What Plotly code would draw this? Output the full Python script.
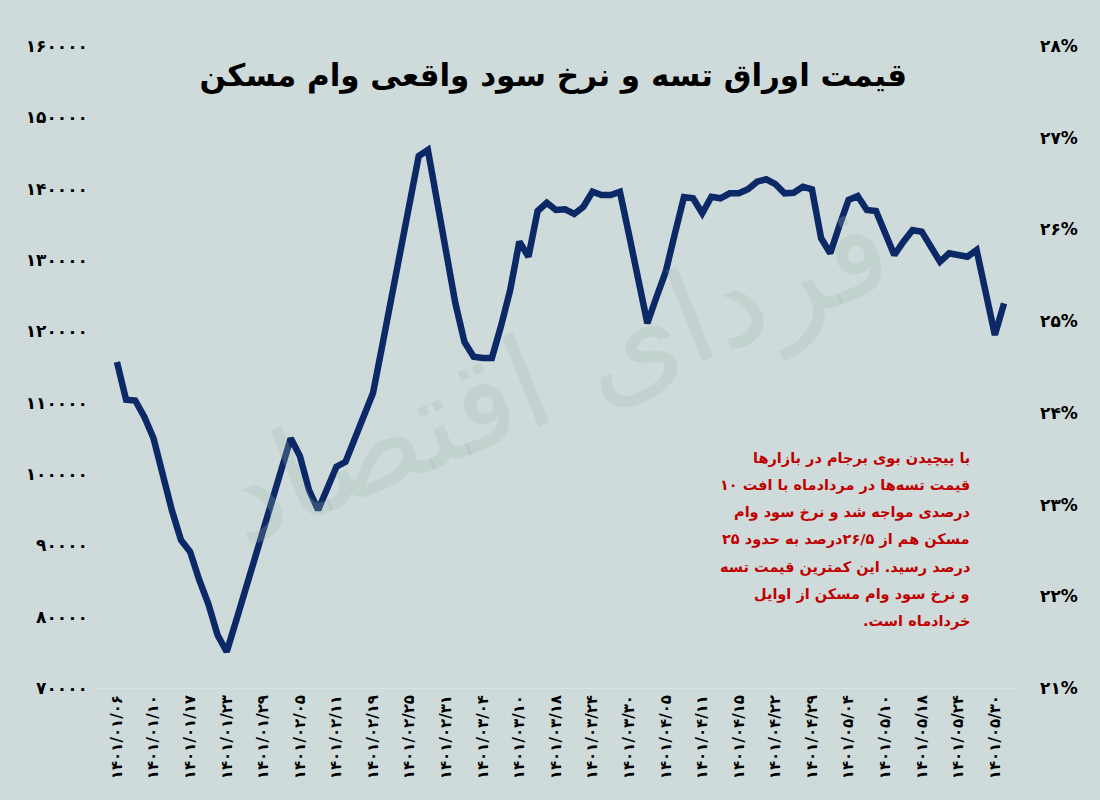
import plotly.graph_objects as go

# ---- data ----
price = [115700, 110400, 110300, 108000, 105000, 99500, 94950, 90750, 89100, 85140,
         81770, 77430, 75090, 79280, 83460, 87660, 91870, 96070, 100280, 105000,
         102520, 97760, 94950, 97760, 101020, 101720, 105050, 108270, 111350, 117940,
         124670, 131260, 137990, 144580, 145420, 138550, 131260, 123970, 118500, 116440,
         116260, 116260, 120750, 125790, 132570, 130460, 136870, 138030, 137010, 137110,
         136450, 137470, 139570, 139110, 139110, 139570, 133500, 127200, 121130, 124810,
         128320, 133640, 138830, 138650, 136550, 138870, 138650, 139350, 139350, 139910,
         140980, 141310, 140650, 139350, 139430, 140280, 139910, 133040, 130940, 134840,
         138410, 138970, 137010, 136870, 133570, 130700, 132570, 134200, 133970, 131750,
         129760, 130940, 130700, 130460, 131400, 125790, 119490, 123930]

date_labels = ["۱۴۰۱/۰۱/۰۶", "۱۴۰۱/۰۱/۱۰", "۱۴۰۱/۰۱/۱۷", "۱۴۰۱/۰۱/۲۳", "۱۴۰۱/۰۱/۲۹",
               "۱۴۰۱/۰۲/۰۵", "۱۴۰۱/۰۲/۱۱", "۱۴۰۱/۰۲/۱۹", "۱۴۰۱/۰۲/۲۵", "۱۴۰۱/۰۲/۳۱",
               "۱۴۰۱/۰۳/۰۴", "۱۴۰۱/۰۳/۱۰", "۱۴۰۱/۰۳/۱۸", "۱۴۰۱/۰۳/۲۴", "۱۴۰۱/۰۳/۳۰",
               "۱۴۰۱/۰۴/۰۵", "۱۴۰۱/۰۴/۱۱", "۱۴۰۱/۰۴/۱۵", "۱۴۰۱/۰۴/۲۲", "۱۴۰۱/۰۴/۲۹",
               "۱۴۰۱/۰۵/۰۴", "۱۴۰۱/۰۵/۱۰", "۱۴۰۱/۰۵/۱۸", "۱۴۰۱/۰۵/۲۴", "۱۴۰۱/۰۵/۳۰"]
label_every = 4

left_vals = [70000, 80000, 90000, 100000, 110000, 120000, 130000, 140000, 150000, 160000]
left_text = ["۷۰۰۰۰", "۸۰۰۰۰", "۹۰۰۰۰", "۱۰۰۰۰۰", "۱۱۰۰۰۰", "۱۲۰۰۰۰",
             "۱۳۰۰۰۰", "۱۴۰۰۰۰", "۱۵۰۰۰۰", "۱۶۰۰۰۰"]
right_vals = [21, 22, 23, 24, 25, 26, 27, 28]
right_text = ["۲۱%", "۲۲%", "۲۳%", "۲۴%", "۲۵%", "۲۶%", "۲۷%", "۲۸%"]

title = "قیمت اوراق تسه و نرخ سود واقعی وام مسکن"
note_lines = ["با پیچیدن بوی برجام در بازارها",
              "قیمت تسه‌ها در مردادماه با افت ۱۰",
              "درصدی مواجه شد و نرخ سود وام",
              "مسکن هم از ۲۶/۵درصد به حدود ۲۵",
              "درصد رسید. این کمترین قیمت تسه",
              "و نرخ سود وام مسکن از اوایل",
              "خردادماه است.\u200f"]
watermark = "فردای اقتصاد"

BG = "#cfdbda"
FONT = "DejaVu Sans"
W, H = 1100, 800
ML, MR, MT, MB = 95, 85, 46, 112

x = list(range(len(price)))
tickvals = x[::label_every][:len(date_labels)]

fig = go.Figure()
fig.add_trace(go.Scatter(x=x, y=price, mode="lines",
                         line=dict(color="#0b2966", width=6.5),
                         showlegend=False, hoverinfo="skip"))
fig.add_trace(go.Scatter(x=[None], y=[None], yaxis="y2", mode="lines",
                         showlegend=False, hoverinfo="skip"))

fig.update_layout(
    width=W, height=H,
    paper_bgcolor=BG, plot_bgcolor=BG,
    margin=dict(l=ML, r=MR, t=MT, b=MB),
    font=dict(family=FONT, color="black"),
    title=dict(text="<b>" + title + "</b>", x=0.503, xanchor="center",
               y=1 - 75 / H, yanchor="middle",
               font=dict(family=FONT, size=31, color="black")),
    xaxis=dict(range=[-2.4, 98.2], tickmode="array", tickvals=tickvals,
               ticktext=["<b>" + t + "</b>" for t in date_labels],
               tickangle=-90, showgrid=False, zeroline=False,
               showline=True, linecolor="#d9e3e2", linewidth=1,
               ticks="", tickfont=dict(size=15, color="black")),
    yaxis=dict(range=[70000, 160000], tickmode="array", tickvals=left_vals,
               ticktext=["<b>" + t + "</b>" for t in left_text],
               showgrid=False, zeroline=False, ticks="", ticklabelstandoff=6,
               tickfont=dict(size=17, color="black")),
    yaxis2=dict(range=[21, 28], overlaying="y", side="right", tickmode="array",
                tickvals=right_vals, ticktext=["<b>" + t + "</b>" for t in right_text],
                showgrid=False, zeroline=False, ticks="", ticklabelstandoff=24,
                tickfont=dict(size=17, color="black")),
)

fig.add_annotation(text=watermark, xref="paper", yref="paper", x=0.5, y=0.49,
                   showarrow=False, textangle=-22,
                   font=dict(family=FONT, size=128, color="rgba(160,185,178,0.26)"))

# note block: one annotation per line, right-aligned
pw = W - ML - MR
ph = H - MT - MB
note_right_px = 972
note_top_px = 458
note_step_px = 27.3
for i, line in enumerate(note_lines):
    ypx = note_top_px + i * note_step_px
    fig.add_annotation(text="<b>" + line + "</b>", xref="paper", yref="paper",
                       x=(note_right_px - ML) / pw, y=(H - MB - ypx) / ph,
                       xanchor="right", yanchor="middle", showarrow=False,
                       font=dict(family=FONT, size=14.5, color="#c00000"))

fig.write_html("out.html", config={"displayModeBar": False},
               post_script="document.body.style.margin='0';")
